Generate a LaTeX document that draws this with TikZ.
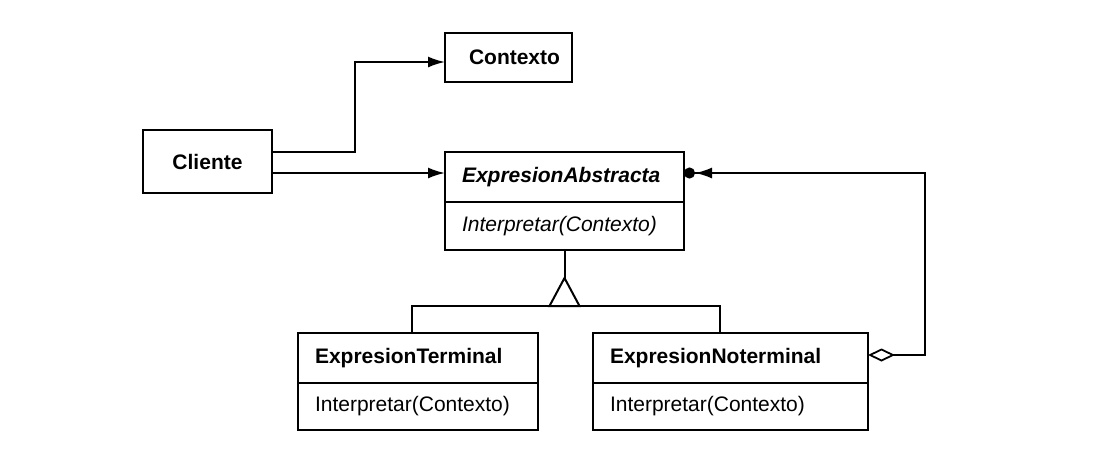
\documentclass[tikz,border=0pt]{standalone}
\usepackage{fontspec}
\setmainfont{Liberation Sans}
\usetikzlibrary{arrows.meta,calc}
\tikzset{
  ln/.style={line width=2pt, line join=miter},
  box/.style={draw, ln, inner sep=0pt, outer sep=0pt, font=\fontsize{21}{24}\selectfont},
  simplebox/.style={box, font=\fontsize{21}{24}\selectfont\bfseries, align=center},
  titlebox/.style={box, font=\fontsize{21}{24}\selectfont\bfseries, align=left, inner xsep=17pt, minimum height=50pt},
  opbox/.style={box, align=left, inner xsep=17pt, minimum height=47pt, anchor=north},
  assoc/.style={ln, -{Latex[length=17pt,width=11pt]}},
  aggr/.style={ln, {Diamond[open,length=27pt,width=13pt,line width=1.8pt]}-{Latex[length=17pt,width=11pt] Circle[length=11pt]}},
}
\begin{document}
\begin{tikzpicture}[x=1pt,y=-1pt]
\useasboundingbox (0,0) rectangle (1096,472);

% classes
\node[simplebox, minimum width=127pt, minimum height=49pt] (contexto) at (508.5,57.5) {\hspace*{12pt}Contexto};
\node[simplebox, minimum width=129pt, minimum height=63pt] (cliente) at (207.5,161.5) {Cliente};

\node[titlebox, text width=205pt] (eat) at (564.5,177) {\itshape ExpresionAbstracta};
\node[opbox, text width=205pt, minimum height=48pt] (eao) at (eat.south) {\itshape Interpretar(Contexto)};

\node[titlebox, text width=206pt] (ett) at (418,358) {ExpresionTerminal};
\node[opbox, text width=206pt] (eto) at (ett.south) {Interpretar(Contexto)};

\node[titlebox, text width=241pt] (entt) at (730.5,358) {ExpresionNoterminal};
\node[opbox, text width=241pt] (ento) at (entt.south) {Interpretar(Contexto)};

% associations from Cliente
\coordinate (c1) at ([yshift=-4.5pt]contexto.west);
\coordinate (k1) at ([yshift=9.5pt]cliente.east);
\coordinate (bend) at (355,0);
\draw[assoc] (k1) -- (bend |- k1) -- (bend |- c1) -- (c1);

\coordinate (a2) at ([yshift=4pt]eat.west);
\draw[assoc] (cliente.east |- a2) -- (a2);

% aggregation
\coordinate (a3) at ([yshift=4pt]eat.east);
\coordinate (d1) at ([yshift=3pt]entt.east);
\coordinate (rt) at (925,0);
\draw[aggr] (d1) -- (rt |- d1) -- (rt |- a3) -- (a3);

% inheritance
\coordinate (apex) at ([yshift=-28pt]eao.south);
\coordinate (base) at ([yshift=-56pt]eao.south);
\coordinate (tl) at ([xshift=-6pt]ett.north);
\coordinate (tr) at ([xshift=-10.5pt]entt.north);
\draw[ln] (eao.south) -- (apex);
\draw[ln] (apex) -- ([xshift=-15pt]base) -- ([xshift=15pt]base) -- cycle;
\draw[ln] (tl) -- (tl |- base) -- (tr |- base) -- (tr);
\end{tikzpicture}
\end{document}
